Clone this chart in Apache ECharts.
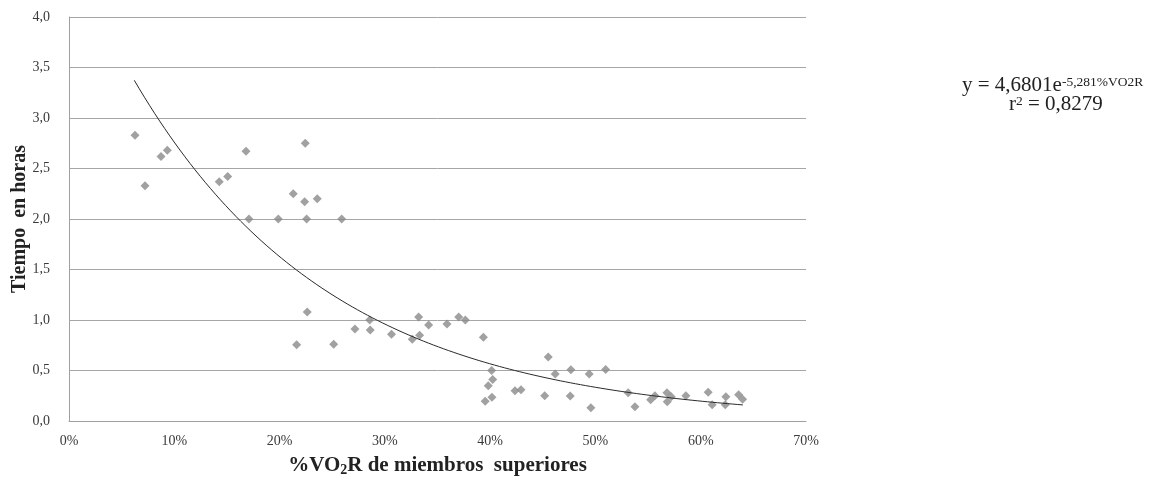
<!DOCTYPE html>
<html>
<head>
<meta charset="utf-8">
<script src="https://cdn.jsdelivr.net/npm/echarts@6/dist/echarts.min.js"></script>
<style>
  html, body { margin: 0; padding: 0; background: #ffffff; }
  #chart { width: 1161px; height: 479px; }
</style>
</head>
<body>
<div id="chart"></div>
<script>
// %VO2R of the upper limbs (fraction) and time in hours for each subject
const vo2rPct = [
  0.0627, 0.0722, 0.0874, 0.0934, 0.1427, 0.1507, 0.1681, 0.1709, 0.1988, 0.2130,
  0.2238, 0.2244, 0.2257, 0.2358, 0.2590, 0.2263, 0.2162, 0.2514, 0.2716, 0.2856,
  0.2861, 0.3063, 0.3260, 0.3330, 0.3321, 0.3416, 0.3590, 0.3701, 0.3764, 0.3936,
  0.4014, 0.4024, 0.3982, 0.4017, 0.3953, 0.4236, 0.4293, 0.4518, 0.4552, 0.4618,
  0.4767, 0.4761, 0.4941, 0.4957, 0.5097, 0.5311, 0.5375, 0.5524, 0.5565, 0.5679,
  0.5682, 0.5720, 0.5859, 0.6071, 0.6109, 0.6233, 0.6239, 0.6360, 0.6398
];
const hours = [
  2.83, 2.33, 2.62, 2.68, 2.37, 2.42, 2.67, 2.00, 2.00, 2.25,
  2.17, 2.75, 2.00, 2.20, 2.00, 1.08, 0.755, 0.76, 0.91, 1.00,
  0.90, 0.86, 0.81, 0.85, 1.03, 0.95, 0.96, 1.03, 1.00, 0.83,
  0.50, 0.41, 0.35, 0.235, 0.195, 0.30, 0.31, 0.25, 0.634, 0.465,
  0.508, 0.248, 0.465, 0.13, 0.51, 0.28, 0.14, 0.21, 0.25, 0.28,
  0.19, 0.24, 0.25, 0.285, 0.16, 0.16, 0.24, 0.26, 0.215
];

// Exponential trend line y = A·e^(−B·x), drawn over the observed range
const trendA = 4.6801;
const trendB = 5.281;
const trendRange = [0.062, 0.64];
const trendLabel = 'y = 4,6801e';
const trendExponentLabel = '-5,281%VO2R';
const r2Label = '0,8279';

const xTicks = { min: 0, max: 0.7, step: 0.1 };
const yTicks = { min: 0, max: 4, step: 0.5 };

const scatterData = vo2rPct.map((x, i) => [x, hours[i]]);
const trendData = [];
const steps = 120;
for (let i = 0; i <= steps; i++) {
  const x = trendRange[0] + (trendRange[1] - trendRange[0]) * i / steps;
  trendData.push([x, trendA * Math.exp(-trendB * x)]);
}

const serif = '"Liberation Serif", "Times New Roman", serif';
const chart = echarts.init(document.getElementById('chart'), null, { renderer: 'canvas' });

chart.setOption({
  backgroundColor: '#ffffff',
  animation: false,
  grid: { left: 69, right: 355, top: 17, bottom: 58, outerBoundsMode: 'none', containLabel: false },
  xAxis: {
    type: 'value',
    min: xTicks.min, max: xTicks.max, interval: xTicks.step,
    name: '%VO{sub|2}R de miembros  superiores',
    nameLocation: 'middle',
    nameGap: 34,
    nameTextStyle: {
      fontFamily: serif, fontSize: 21, fontWeight: 'bold', color: '#222',
      rich: { sub: { fontFamily: serif, fontSize: 14, fontWeight: 'bold', color: '#222', verticalAlign: 'bottom', padding: [8, 0, 0, 0] } }
    },
    axisLine: { show: true, lineStyle: { color: '#a0a0a0', width: 1 } },
    axisTick: { show: false },
    splitLine: { show: false },
    axisLabel: {
      margin: 13, fontFamily: serif, fontSize: 14, color: '#3a3a3a',
      formatter: v => Math.round(v * 100) + '%'
    }
  },
  yAxis: {
    type: 'value',
    min: yTicks.min, max: yTicks.max, interval: yTicks.step,
    name: 'Tiempo  en horas',
    nameLocation: 'middle',
    nameGap: 39,
    nameMoveOverlap: false,
    nameTextStyle: { fontFamily: serif, fontSize: 20, fontWeight: 'bold', color: '#222' },
    axisLine: { show: true, lineStyle: { color: '#a0a0a0', width: 1 } },
    axisTick: { show: false },
    splitLine: { show: true, lineStyle: { color: '#a6a6a6', width: 1 } },
    axisLabel: {
      margin: 19, fontFamily: serif, fontSize: 14, color: '#3a3a3a',
      formatter: v => v.toFixed(1).replace('.', ',')
    }
  },
  series: [
    {
      type: 'scatter',
      data: scatterData,
      symbol: 'diamond',
      symbolSize: 9,
      itemStyle: { color: '#898989' },
      z: 3
    },
    {
      type: 'line',
      data: trendData,
      showSymbol: false,
      smooth: false,
      lineStyle: { color: '#2a2a2a', width: 1 },
      z: 4
    }
  ],
  graphic: [
    {
      type: 'text',
      left: 962, top: 75,
      style: {
        text: trendLabel + '{sup|' + trendExponentLabel + '}',
        fontFamily: serif, fontSize: 21, fill: '#222',
        rich: { sup: { fontFamily: serif, fontSize: 13.5, fill: '#222', verticalAlign: 'top', padding: [0, 0, 7, 0] } }
      }
    },
    {
      type: 'text',
      left: 1009, top: 94,
      style: {
        text: 'r{sup|2} = ' + r2Label,
        fontFamily: serif, fontSize: 21, fill: '#222',
        rich: { sup: { fontFamily: serif, fontSize: 13.5, fill: '#222', verticalAlign: 'top', padding: [0, 0, 7, 0] } }
      }
    }
  ]
});
</script>
</body>
</html>
